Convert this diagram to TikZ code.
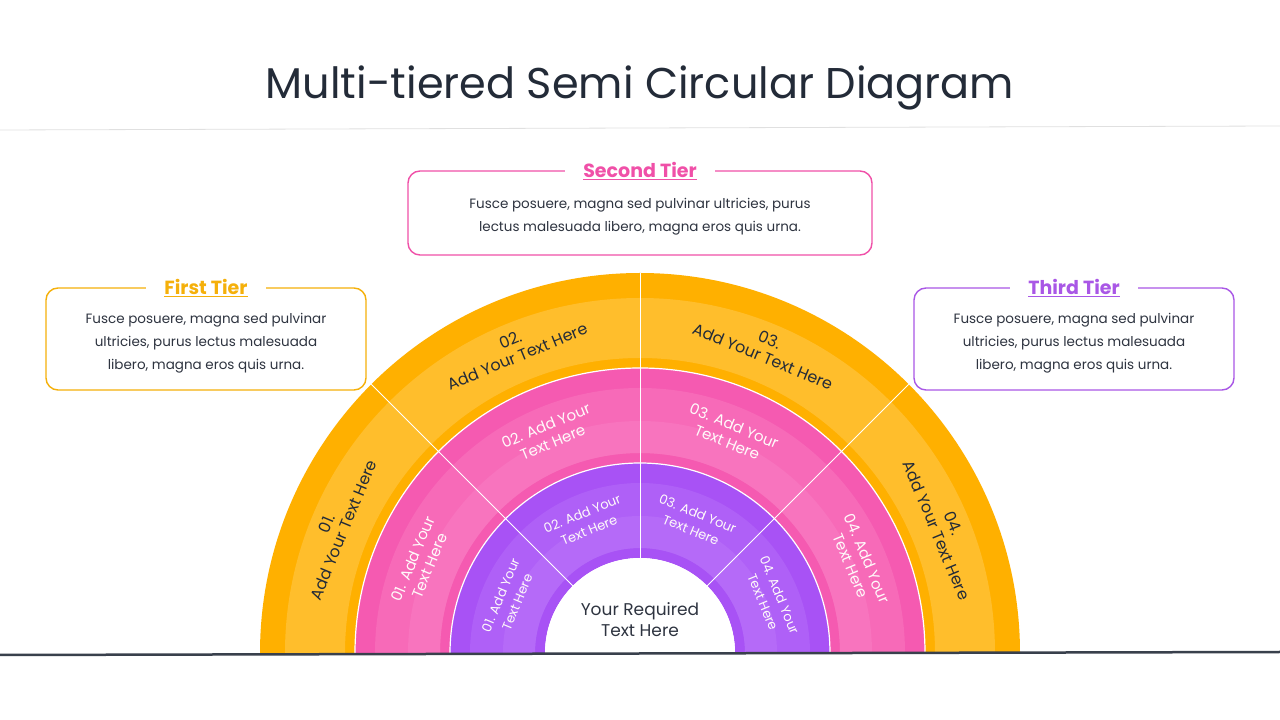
\documentclass[tikz,border=0pt]{standalone}
\usepackage{fontspec}
\setmainfont{Poppins}
\usetikzlibrary{positioning}
\definecolor{OrangeDark}{HTML}{FFB000}
\definecolor{OrangeLight}{HTML}{FFBE2C}
\definecolor{PinkDark}{HTML}{F55AB1}
\definecolor{PinkLight}{HTML}{F76AB8}
\definecolor{PinkPale}{HTML}{F874BE}
\definecolor{PurpleDark}{HTML}{A852F5}
\definecolor{PurpleLight}{HTML}{AF60F7}
\definecolor{PurplePale}{HTML}{B56AF8}
\definecolor{TitleInk}{HTML}{232B38}
\definecolor{BodyInk}{HTML}{2E3440}
\definecolor{TierOrange}{HTML}{F5B00A}
\definecolor{TierPink}{HTML}{F050A8}
\definecolor{TierPurple}{HTML}{A957E6}
\tikzset{
  tierbox/.style={draw=#1, line width=1.4pt, rounded corners=12pt},
  tiertitle/.style={fill=white, text=#1, font=\fontsize{19}{22}\selectfont\bfseries, inner xsep=18pt},
  tierbody/.style={text=BodyInk, align=center, font=\fontsize{13.5}{23}\selectfont},
  ringlabel/.style={align=center, font=\fontsize{#1}{18}\selectfont}
}
\begin{document}
\begin{tikzpicture}[x=1pt,y=1pt]
				\fill[white] (0,0) rectangle (1280,720);
				\useasboundingbox (0,0) rectangle (1280,720);

				% title
				\node[text=TitleInk, font=\fontsize{43}{50}\selectfont] (title) at (640,632) {Multi-tiered Semi Circular Diagram};
				\draw[black!12, line width=0.8pt] (0,590) -- (1280,594);

				% rings
				\coordinate (C) at (640,67);
				\foreach \rin/\rout/\col in {
					285/380/OrangeDark, 295/355/OrangeLight,
					190/285/PinkDark, 200/265/PinkLight, 200/232/PinkPale,
					95/190/PurpleDark, 105/170/PurpleLight, 105/137/PurplePale}{
					\fill[\col] ([shift={(0:\rout)}]C) arc (0:180:\rout) -- ([shift={(180:\rin)}]C) arc (180:0:\rin) -- cycle;
				}
				\foreach \r in {190, 285} {\draw[white, line width=1.2pt] ([shift={(0:\r)}]C) arc (0:180:\r);}
				\foreach \a in {45, 90, 135} {\draw[white, line width=1pt] ([shift={(\a:95)}]C) -- ([shift={(\a:380)}]C);}
				\fill[white] ([shift={(0:95)}]C) arc (0:180:95) -- cycle;
				\node[text=BodyInk, align=center, font=\fontsize{17}{21}\selectfont] (core) at (640,100) {Your Required\\Text Here};

				% ring labels
				\foreach \a/\n in {157.5/01, 112.5/02, 67.5/03, 22.5/04} {
					\node[ringlabel=16, text=TitleInk, rotate=\a-90] (outer\n) at ([shift={(\a:330)}]C) {\n.\\Add Your Text Here};
					\node[ringlabel=15, text=white!92!pink, rotate=\a-90] (middle\n) at ([shift={(\a:237)}]C) {\n. Add Your\\Text Here};
					\node[ringlabel=13, text=white!92!pink, rotate=\a-90] (inner\n) at ([shift={(\a:142)}]C) {\n. Add Your\\Text Here};
				}

				% baseline
				\draw[TitleInk!90, line width=2.5pt] (0,65) -- (1280,68);

				% tier boxes
				\foreach \x/\y/\w/\h/\col/\name/\txt in {
					206/381/320/102/TierOrange/First Tier/{Fusce posuere, magna sed pulvinar\\ultricies, purus lectus malesuada\\libero, magna eros quis urna.},
					640/507/464/84/TierPink/Second Tier/{Fusce posuere, magna sed pulvinar ultricies, purus\\lectus malesuada libero, magna eros quis urna.},
					1074/381/320/102/TierPurple/Third Tier/{Fusce posuere, magna sed pulvinar\\ultricies, purus lectus malesuada\\libero, magna eros quis urna.}}{
					\draw[tierbox=\col] (\x-\w/2,\y-\h/2) rectangle (\x+\w/2,\y+\h/2);
					\node[tierbody] (body) at (\x,\y-4) {\txt};
					\node[tiertitle=\col] (head) at (\x,\y+\h/2) {\underline{\name}};
				}
			\end{tikzpicture}
\end{document}
